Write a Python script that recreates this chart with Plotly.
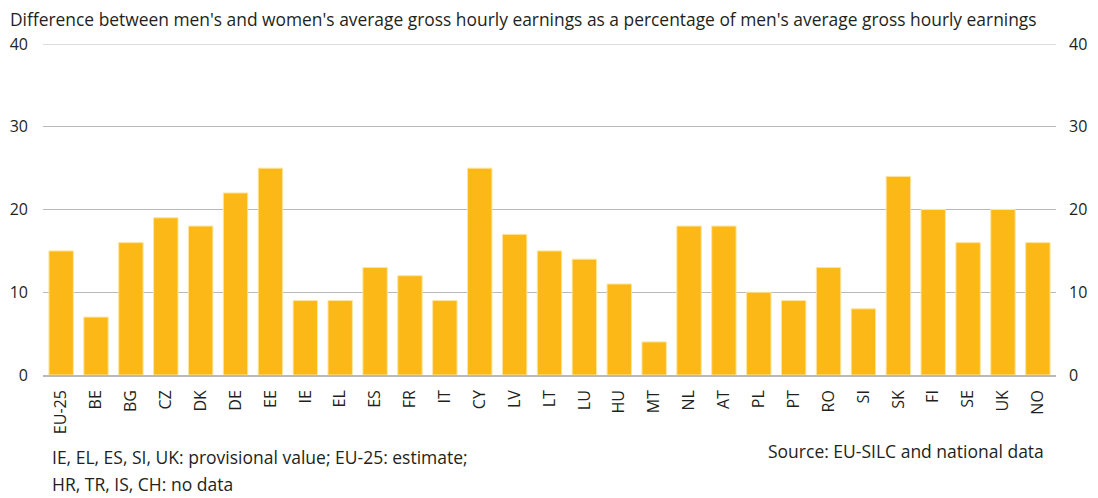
import plotly.graph_objects as go

categories = ["EU-25", "BE", "BG", "CZ", "DK", "DE", "EE", "IE", "EL", "ES", "FR", "IT", "CY", "LV",
              "LT", "LU", "HU", "MT", "NL", "AT", "PL", "PT", "RO", "SI", "SK", "FI", "SE", "UK", "NO"]
values = [15, 7, 16, 19, 18, 22, 25, 9, 9, 13, 12, 9, 25, 17,
          15, 14, 11, 4, 18, 18, 10, 9, 13, 8, 24, 20, 16, 20, 16]
y_ticks = [0, 10, 20, 30, 40]

title_text = "Difference between men's and women's average gross hourly earnings as a percentage of men's average gross hourly earnings"
note1 = "IE, EL, ES, SI, UK: provisional value; EU-25: estimate;"
note2 = "HR, TR, IS, CH: no data"
source = "Source: EU-SILC and national data"

FONT = "Open Sans"
TXT = "#231f20"
GRID = "#b9b9b9"

# figure is placed by the page at (8, 8); all geometry below is in figure coordinates
W, H = 1090, 490
L, R, T, B = 35, 42, 36, 123
PW, PH = W - L - R, H - T - B


def px(x):
    return (x - L) / PW


def py(y):
    return (H - B - y) / PH


fig = go.Figure()
fig.add_trace(go.Bar(
    x=categories, y=values,
    marker=dict(color="#fcb817", line=dict(color="#fde6a0", width=1)),
    hoverinfo="x+y",
))
fig.add_trace(go.Scatter(
    x=categories, y=values, mode="none", yaxis="y2", hoverinfo="skip", showlegend=False,
))

axis_common = dict(
    range=[0, 40], tickvals=y_ticks, showgrid=True, gridcolor=GRID, gridwidth=1,
    zeroline=False, showline=False, ticks="", automargin=False,
    tickfont=dict(family=FONT, size=16, color=TXT),
)
fig.update_layout(
    width=W, height=H,
    margin=dict(l=L, r=R, t=T, b=B),
    paper_bgcolor="white", plot_bgcolor="white",
    showlegend=False, bargap=0.3,
    xaxis=dict(
        range=[-0.52, 28.52], tickangle=-90, showgrid=False, showline=True, linecolor=GRID,
        linewidth=1.5, ticks="", ticklabelstandoff=7, automargin=False,
        tickfont=dict(family=FONT, size=16, color=TXT),
    ),
    yaxis=dict(side="left", ticklabelstandoff=14, **axis_common),
    yaxis2=dict(side="right", overlaying="y", ticklabelstandoff=12, **axis_common),
    shapes=[dict(type="line", xref="paper", yref="y", x0=0, x1=1, y0=40, y1=40,
                 line=dict(color=GRID, width=1), layer="below")],
    annotations=[
        dict(text=title_text, xref="paper", yref="paper", x=px(0), y=py(11.5),
             xanchor="left", yanchor="middle", showarrow=False,
             font=dict(family=FONT, size=17.4, color=TXT)),
        dict(text=note1, xref="paper", yref="paper", x=px(42), y=py(449),
             xanchor="left", yanchor="middle", showarrow=False,
             font=dict(family=FONT, size=17.5, color=TXT)),
        dict(text=note2, xref="paper", yref="paper", x=px(42), y=py(475.5),
             xanchor="left", yanchor="middle", showarrow=False,
             font=dict(family=FONT, size=17.5, color=TXT)),
        dict(text=source, xref="paper", yref="paper", x=px(1038), y=py(443),
             xanchor="right", yanchor="middle", showarrow=False,
             font=dict(family=FONT, size=17.5, color=TXT)),
    ],
)
fig.write_html("out.html")
